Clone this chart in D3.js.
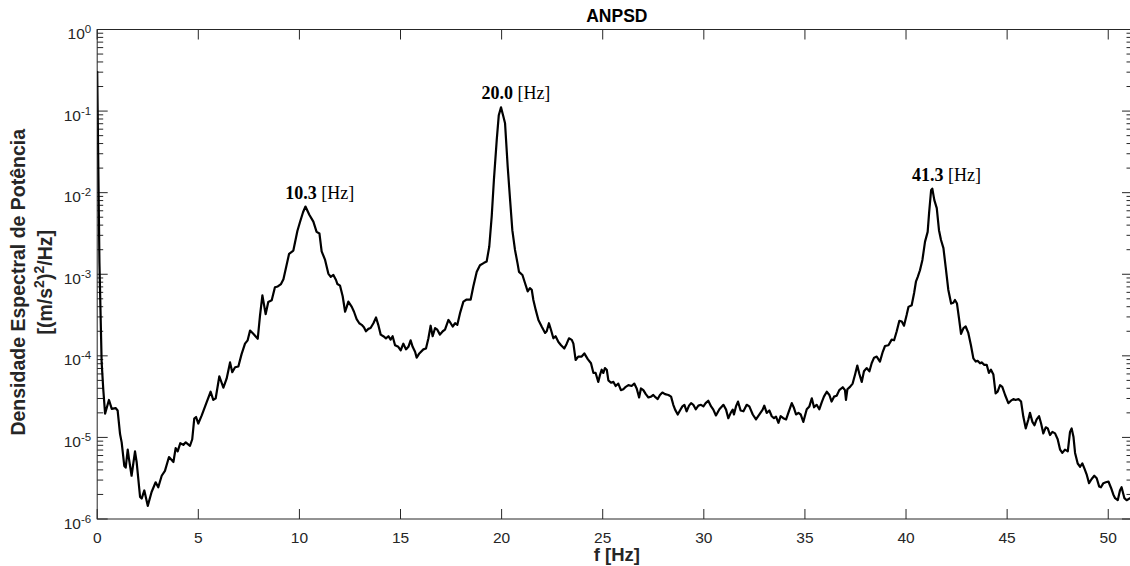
<!DOCTYPE html>
<html>
<head>
<meta charset="utf-8">
<script src="https://cdn.jsdelivr.net/npm/d3@7/dist/d3.min.js"></script>
<style>
  body { margin: 0; background: #fff; }
  svg { display: block; }
</style>
</head>
<body>
<script>
// ANPSD spectrum, values
var freq = [
  0.00, 0.11, 0.22, 0.30, 0.39, 0.58, 0.72, 0.91, 1.01, 1.13,
  1.21, 1.34, 1.41, 1.51, 1.57, 1.70, 1.87, 1.95, 2.12, 2.20,
  2.33, 2.50, 2.69, 2.89, 3.02, 3.19, 3.35, 3.55, 3.77, 3.88,
  3.98, 4.11, 4.26, 4.38, 4.59, 4.70, 4.80, 4.89, 5.00, 5.17,
  5.41, 5.61, 5.74, 5.86, 6.04, 6.24, 6.40, 6.57, 6.68, 6.82,
  6.98, 7.14, 7.31, 7.44, 7.56, 7.72, 7.94, 8.05, 8.17, 8.33,
  8.46, 8.63, 8.79, 8.93, 9.09, 9.21, 9.32, 9.49, 9.70, 9.90,
  10.03, 10.18, 10.30, 10.49, 10.69, 10.85, 10.99, 11.10, 11.27, 11.43,
  11.55, 11.68, 11.81, 11.88, 12.01, 12.14, 12.26, 12.34, 12.42, 12.59,
  12.70, 12.83, 12.96, 13.08, 13.19, 13.29, 13.41, 13.52, 13.66, 13.79,
  13.90, 14.02, 14.15, 14.28, 14.40, 14.51, 14.61, 14.73, 14.89, 15.01,
  15.14, 15.27, 15.39, 15.50, 15.60, 15.72, 15.80, 15.93, 16.13, 16.26,
  16.38, 16.49, 16.59, 16.71, 16.82, 16.95, 17.09, 17.20, 17.37, 17.48,
  17.58, 17.70, 17.81, 17.94, 18.11, 18.27, 18.47, 18.60, 18.77, 18.93,
  19.13, 19.26, 19.39, 19.51, 19.62, 19.76, 19.86, 19.97, 20.09, 20.17,
  20.30, 20.42, 20.53, 20.66, 20.79, 20.86, 21.03, 21.16, 21.29, 21.40,
  21.49, 21.57, 21.69, 21.82, 21.98, 22.15, 22.23, 22.34, 22.44, 22.56,
  22.67, 22.81, 22.94, 23.10, 23.22, 23.33, 23.47, 23.55, 23.66, 23.79,
  23.96, 24.09, 24.26, 24.42, 24.54, 24.65, 24.78, 24.87, 24.95, 25.03,
  25.11, 25.20, 25.28, 25.41, 25.53, 25.64, 25.77, 25.90, 26.02, 26.14,
  26.27, 26.43, 26.56, 26.68, 26.80, 26.89, 27.01, 27.13, 27.26, 27.39,
  27.50, 27.62, 27.72, 27.83, 27.95, 28.08, 28.25, 28.38, 28.49, 28.58,
  28.71, 28.82, 28.94, 29.04, 29.15, 29.27, 29.37, 29.48, 29.60, 29.73,
  29.86, 29.98, 30.09, 30.22, 30.36, 30.47, 30.60, 30.77, 30.97, 31.10,
  31.21, 31.33, 31.43, 31.49, 31.59, 31.69, 31.82, 31.96, 32.12, 32.25,
  32.42, 32.58, 32.75, 32.91, 32.99, 33.11, 33.24, 33.36, 33.47, 33.57,
  33.69, 33.80, 33.93, 34.07, 34.18, 34.35, 34.46, 34.56, 34.68, 34.79,
  34.92, 35.09, 35.22, 35.34, 35.45, 35.58, 35.71, 35.83, 35.94, 36.08,
  36.21, 36.32, 36.44, 36.57, 36.70, 36.87, 36.98, 37.03, 37.10, 37.23,
  37.36, 37.48, 37.59, 37.69, 37.81, 37.92, 38.05, 38.19, 38.30, 38.42,
  38.55, 38.71, 38.85, 38.96, 39.13, 39.29, 39.41, 39.54, 39.67, 39.79,
  39.90, 40.03, 40.12, 40.28, 40.40, 40.49, 40.58, 40.69, 40.81, 40.94,
  41.07, 41.14, 41.24, 41.30, 41.40, 41.52, 41.63, 41.73, 41.85, 41.96,
  42.09, 42.23, 42.34, 42.42, 42.52, 42.62, 42.72, 42.84, 42.95, 43.08,
  43.21, 43.33, 43.45, 43.54, 43.66, 43.74, 43.87, 43.99, 44.10, 44.20,
  44.32, 44.43, 44.53, 44.65, 44.76, 44.90, 45.06, 45.19, 45.31, 45.42,
  45.56, 45.69, 45.80, 45.92, 46.05, 46.13, 46.25, 46.35, 46.46, 46.58,
  46.68, 46.79, 46.91, 47.01, 47.12, 47.24, 47.37, 47.50, 47.62, 47.73,
  47.86, 48.00, 48.11, 48.19, 48.28, 48.36, 48.49, 48.61, 48.72, 48.82,
  48.94, 49.05, 49.18, 49.31, 49.43, 49.55, 49.64, 49.76, 49.88, 50.01,
  50.14, 50.25, 50.34, 50.47, 50.58, 50.66, 50.80, 50.91, 51.08, 51.20
]
var psd = [
  3.1e-1, 1.41e-3, 8.3e-5, 3.9e-5, 1.95e-5, 2.88e-5, 2.24e-5, 2.29e-5, 2.14e-5, 1.10e-5,
  8.7e-6, 4.47e-6, 4.27e-6, 7.08e-6, 5.5e-6, 3.39e-6, 6.76e-6, 5.0e-6, 1.86e-6, 1.78e-6,
  2.24e-6, 1.45e-6, 2.14e-6, 2.82e-6, 2.45e-6, 3.39e-6, 3.89e-6, 5.75e-6, 5.0e-6, 7.4e-6,
  6.76e-6, 8.5e-6, 8.1e-6, 8.7e-6, 7.9e-6, 9.5e-6, 1.70e-5, 1.78e-5, 1.48e-5, 1.86e-5,
  2.69e-5, 3.63e-5, 2.88e-5, 3.02e-5, 5.62e-5, 4.07e-5, 5.25e-5, 8.3e-5, 6.31e-5, 7.24e-5,
  7.4e-5, 1.05e-4, 1.41e-4, 1.55e-4, 2.04e-4, 1.86e-4, 1.62e-4, 3.09e-4, 5.5e-4, 3.24e-4,
  4.57e-4, 4.79e-4, 6.92e-4, 7.08e-4, 7.59e-4, 8.71e-4, 1.15e-3, 1.78e-3, 1.95e-3, 3.39e-3,
  4.37e-3, 5.75e-3, 6.76e-3, 5.37e-3, 4.42e-3, 3.31e-3, 3.16e-3, 1.91e-3, 1.50e-3, 1.02e-3,
  9.3e-4, 9.8e-4, 8.5e-4, 7.59e-4, 7.24e-4, 5.37e-4, 3.47e-4, 3.98e-4, 4.62e-4, 3.98e-4,
  3.47e-4, 2.82e-4, 2.51e-4, 2.40e-4, 2.24e-4, 2.0e-4, 2.14e-4, 2.19e-4, 2.51e-4, 2.95e-4,
  2.40e-4, 1.82e-4, 1.74e-4, 1.64e-4, 1.74e-4, 1.58e-4, 1.74e-4, 1.35e-4, 1.29e-4, 1.17e-4,
  1.41e-4, 1.20e-4, 1.29e-4, 1.55e-4, 1.29e-4, 1.12e-4, 9.5e-5, 1.07e-4, 1.20e-4, 1.23e-4,
  1.64e-4, 2.34e-4, 1.74e-4, 2.19e-4, 2.09e-4, 1.82e-4, 2.0e-4, 2.09e-4, 2.75e-4, 2.51e-4,
  2.29e-4, 2.51e-4, 2.40e-4, 3.31e-4, 4.62e-4, 4.90e-4, 4.90e-4, 7.08e-4, 1.07e-3, 1.29e-3,
  1.38e-3, 1.43e-3, 2.19e-3, 5.13e-3, 1.45e-2, 4.47e-2, 8.9e-2, 1.11e-1, 8.5e-2, 7.08e-2,
  2.09e-2, 8.1e-3, 3.47e-3, 2.0e-3, 1.35e-3, 1.07e-3, 9.8e-4, 7.76e-4, 6.17e-4, 6.76e-4,
  6.46e-4, 4.84e-4, 3.63e-4, 2.75e-4, 2.29e-4, 1.91e-4, 2.0e-4, 2.51e-4, 2.09e-4, 1.64e-4,
  1.74e-4, 1.48e-4, 1.35e-4, 1.23e-4, 1.41e-4, 1.64e-4, 1.57e-4, 1.41e-4, 8.9e-5, 9.8e-5,
  9.8e-5, 1.07e-4, 9.1e-5, 8.1e-5, 6.17e-5, 6.17e-5, 4.79e-5, 5.89e-5, 6.76e-5, 6.17e-5,
  7.08e-5, 6.76e-5, 5.0e-5, 4.68e-5, 4.79e-5, 4.27e-5, 4.57e-5, 3.80e-5, 3.89e-5, 4.17e-5,
  4.37e-5, 4.27e-5, 4.57e-5, 3.98e-5, 3.09e-5, 3.98e-5, 3.80e-5, 3.39e-5, 3.09e-5, 3.16e-5,
  3.31e-5, 3.09e-5, 2.95e-5, 3.31e-5, 3.55e-5, 3.39e-5, 3.31e-5, 3.16e-5, 2.51e-5, 2.19e-5,
  1.91e-5, 2.14e-5, 2.40e-5, 2.51e-5, 2.09e-5, 2.45e-5, 2.63e-5, 2.51e-5, 2.21e-5, 2.45e-5,
  2.51e-5, 2.40e-5, 2.63e-5, 2.82e-5, 2.40e-5, 2.19e-5, 1.86e-5, 2.21e-5, 2.51e-5, 2.19e-5,
  1.72e-5, 2.0e-5, 2.19e-5, 1.91e-5, 2.40e-5, 2.75e-5, 2.14e-5, 2.09e-5, 2.51e-5, 2.40e-5,
  1.91e-5, 1.66e-5, 1.91e-5, 2.19e-5, 2.45e-5, 2.0e-5, 2.14e-5, 1.82e-5, 1.72e-5, 1.80e-5,
  1.51e-5, 1.82e-5, 1.72e-5, 1.66e-5, 2.0e-5, 2.63e-5, 2.29e-5, 1.91e-5, 2.0e-5, 1.91e-5,
  1.55e-5, 2.21e-5, 2.40e-5, 3.02e-5, 2.34e-5, 2.51e-5, 2.21e-5, 2.69e-5, 3.16e-5, 3.63e-5,
  3.31e-5, 2.75e-5, 3.16e-5, 3.24e-5, 3.80e-5, 4.12e-5, 3.80e-5, 2.88e-5, 3.89e-5, 4.17e-5,
  4.57e-5, 5.89e-5, 7.59e-5, 6.03e-5, 4.79e-5, 6.46e-5, 7.08e-5, 6.46e-5, 8.1e-5, 9.5e-5,
  9.8e-5, 8.5e-5, 1.12e-4, 1.32e-4, 1.35e-4, 1.58e-4, 1.55e-4, 2.0e-4, 2.69e-4, 2.63e-4,
  2.34e-4, 3.16e-4, 3.98e-4, 4.17e-4, 5.89e-4, 8.1e-4, 9.3e-4, 1.12e-3, 1.50e-3, 2.51e-3,
  3.31e-3, 5.62e-3, 1.07e-2, 1.12e-2, 8.1e-3, 6.46e-3, 3.47e-3, 2.63e-3, 2.09e-3, 1.23e-3,
  6.46e-4, 4.37e-4, 4.47e-4, 4.84e-4, 4.37e-4, 2.88e-4, 1.86e-4, 2.19e-4, 2.29e-4, 1.91e-4,
  1.35e-4, 9.3e-5, 8.5e-5, 8.7e-5, 8.1e-5, 8.3e-5, 7.76e-5, 7.76e-5, 6.17e-5, 6.76e-5,
  5.89e-5, 3.47e-5, 3.63e-5, 4.37e-5, 4.17e-5, 3.31e-5, 2.63e-5, 2.82e-5, 2.95e-5, 2.88e-5,
  2.95e-5, 2.75e-5, 1.80e-5, 1.29e-5, 1.66e-5, 2.0e-5, 1.55e-5, 1.41e-5, 1.66e-5, 1.82e-5,
  1.48e-5, 1.12e-5, 1.33e-5, 1.29e-5, 1.07e-5, 1.17e-5, 1.12e-5, 9.5e-6, 7.08e-6, 6.46e-6,
  7.08e-6, 6.76e-6, 1.17e-5, 1.29e-5, 1.02e-5, 6.46e-6, 4.79e-6, 4.37e-6, 4.79e-6, 4.17e-6,
  3.47e-6, 2.75e-6, 3.09e-6, 3.39e-6, 3.16e-6, 2.51e-6, 2.45e-6, 2.75e-6, 2.82e-6, 2.88e-6,
  2.40e-6, 2.0e-6, 1.80e-6, 1.70e-6, 2.24e-6, 2.45e-6, 1.80e-6, 1.70e-6, 1.80e-6, 1.75e-6
]

// peak annotations
var peakFreq = [10.3, 20.0, 41.3]
var peakPsd = [6.76e-3, 1.11e-1, 1.12e-2]
var peakText = ["10.3", "20.0", "41.3"]

var xTicks = [0, 5, 10, 15, 20, 25, 30, 35, 40, 45, 50]
var yDecades = [0, -1, -2, -3, -4, -5, -6]

var width = 1130,
    height = 566
var axisColor = "#262626"
var sansFont = "'Liberation Sans', Arial, Helvetica, sans-serif"

var x = d3.scaleLinear().domain([0, 51.2]).range([97.2, 1132.5])
var y = d3.scaleLog().domain([1e-6, 1]).range([519, 29.5])

var svg = d3.select("body").append("svg")
    .attr("width", width)
    .attr("height", height)

// note: "top" is taken by window.top, so plot edges get their own names
var plotLeft = x.range()[0], plotRight = x.range()[1],
    plotTop = y.range()[1], plotBottom = y.range()[0]

svg.append("defs").append("clipPath")
    .attr("id", "plot-clip")
    .append("rect")
    .attr("x", plotLeft).attr("y", plotTop)
    .attr("width", plotRight - plotLeft).attr("height", plotBottom - plotTop)

// x ticks, inward on bottom and top
var xt = svg.append("g").attr("class", "x-ticks")
xt.selectAll(null).data(xTicks).enter().append("line")
    .attr("x1", d => x(d)).attr("x2", d => x(d))
    .attr("y1", plotBottom).attr("y2", plotBottom - 10)
    .attr("stroke", axisColor)
xt.selectAll(null).data(xTicks).enter().append("line")
    .attr("x1", d => x(d)).attr("x2", d => x(d))
    .attr("y1", plotTop).attr("y2", plotTop + 10)
    .attr("stroke", axisColor)
xt.selectAll("text").data(xTicks).enter().append("text")
    .attr("x", d => x(d))
    .attr("y", 543)
    .attr("text-anchor", "middle")
    .style("font-family", sansFont)
    .style("font-size", "15.5px")
    .style("fill", axisColor)
    .text(d => d)

// y ticks, major and minor on both sides
var minor = []
yDecades.slice(1).forEach(p => {
    for (var k = 2; k <= 9; k++) minor.push(k * Math.pow(10, p))
})
var yt = svg.append("g").attr("class", "y-ticks")
;[[plotLeft, 1], [plotRight, -1]].forEach(side => {
    yt.selectAll(null).data(yDecades).enter().append("line")
        .attr("x1", side[0]).attr("x2", side[0] + side[1] * 10.5)
        .attr("y1", d => y(Math.pow(10, d))).attr("y2", d => y(Math.pow(10, d)))
        .attr("stroke", axisColor)
    yt.selectAll(null).data(minor).enter().append("line")
        .attr("x1", side[0]).attr("x2", side[0] + side[1] * 6)
        .attr("y1", d => y(d)).attr("y2", d => y(d))
        .attr("stroke", axisColor)
})
var ylab = yt.selectAll("text").data(yDecades).enter().append("text")
    .attr("x", plotLeft - 6)
    .attr("y", d => y(Math.pow(10, d)) + 9.5)
    .attr("text-anchor", "end")
    .style("font-family", sansFont)
    .style("fill", axisColor)
ylab.append("tspan").style("font-size", "15.5px").text("10")
ylab.append("tspan").style("font-size", "11.5px").attr("dy", -6)
    .text(d => d === 0 ? "0" : "-" + Math.abs(d))

// box
svg.append("rect")
    .attr("x", plotLeft).attr("y", plotTop)
    .attr("width", plotRight - plotLeft).attr("height", plotBottom - plotTop)
    .attr("fill", "none")
    .attr("stroke", axisColor)
    .attr("stroke-width", 1)

// spectrum
var line = d3.line()
    .x((d, i) => x(freq[i]))
    .y(d => y(d))
svg.append("path")
    .datum(psd)
    .attr("clip-path", "url(#plot-clip)")
    .attr("d", line)
    .attr("fill", "none")
    .attr("stroke", "#000")
    .attr("stroke-width", 2.2)
    .attr("stroke-linejoin", "round")

// peak labels, left edge one hertz before the peak
var ann = svg.append("g").selectAll("text").data(peakFreq).enter().append("text")
    .attr("x", d => x(d - 1))
    .attr("y", (d, i) => y(peakPsd[i]) - 8)
    .style("font-family", "'Liberation Serif', 'Times New Roman', serif")
    .style("font-size", "18px")
    .style("fill", "#000")
ann.append("tspan").style("font-weight", "bold").text((d, i) => peakText[i])
ann.append("tspan").text(" [Hz]")

// titles
var midX = (plotLeft + plotRight) / 2 + 2
svg.append("text")
    .attr("x", midX)
    .attr("y", 21.5)
    .attr("text-anchor", "middle")
    .style("font-family", sansFont)
    .style("font-size", "17.5px")
    .style("font-weight", "bold")
    .text("ANPSD")

svg.append("text")
    .attr("x", midX)
    .attr("y", 561)
    .attr("text-anchor", "middle")
    .style("font-family", sansFont)
    .style("font-size", "18.5px")
    .style("font-weight", "bold")
    .style("fill", axisColor)
    .text("f [Hz]")

var yTitle = svg.append("g")
    .attr("transform", "translate(0," + ((plotTop + plotBottom) / 2 + 8) + ") rotate(-90)")
    .style("font-family", sansFont)
    .style("font-size", "19.5px")
    .style("font-weight", "bold")
    .style("fill", axisColor)
yTitle.append("text")
    .attr("x", 0).attr("y", 25)
    .attr("text-anchor", "middle")
    .text("Densidade Espectral de Potência")
var unit = yTitle.append("text")
    .attr("x", 0).attr("y", 52)
    .attr("text-anchor", "middle")
unit.append("tspan").text("[(m/s")
unit.append("tspan").attr("dy", -8).style("font-size", "14px").text("2")
unit.append("tspan").attr("dy", 8).text(")")
unit.append("tspan").attr("dy", -8).style("font-size", "14px").text("2")
unit.append("tspan").attr("dy", 8).text("/Hz]")
</script>
</body>
</html>
